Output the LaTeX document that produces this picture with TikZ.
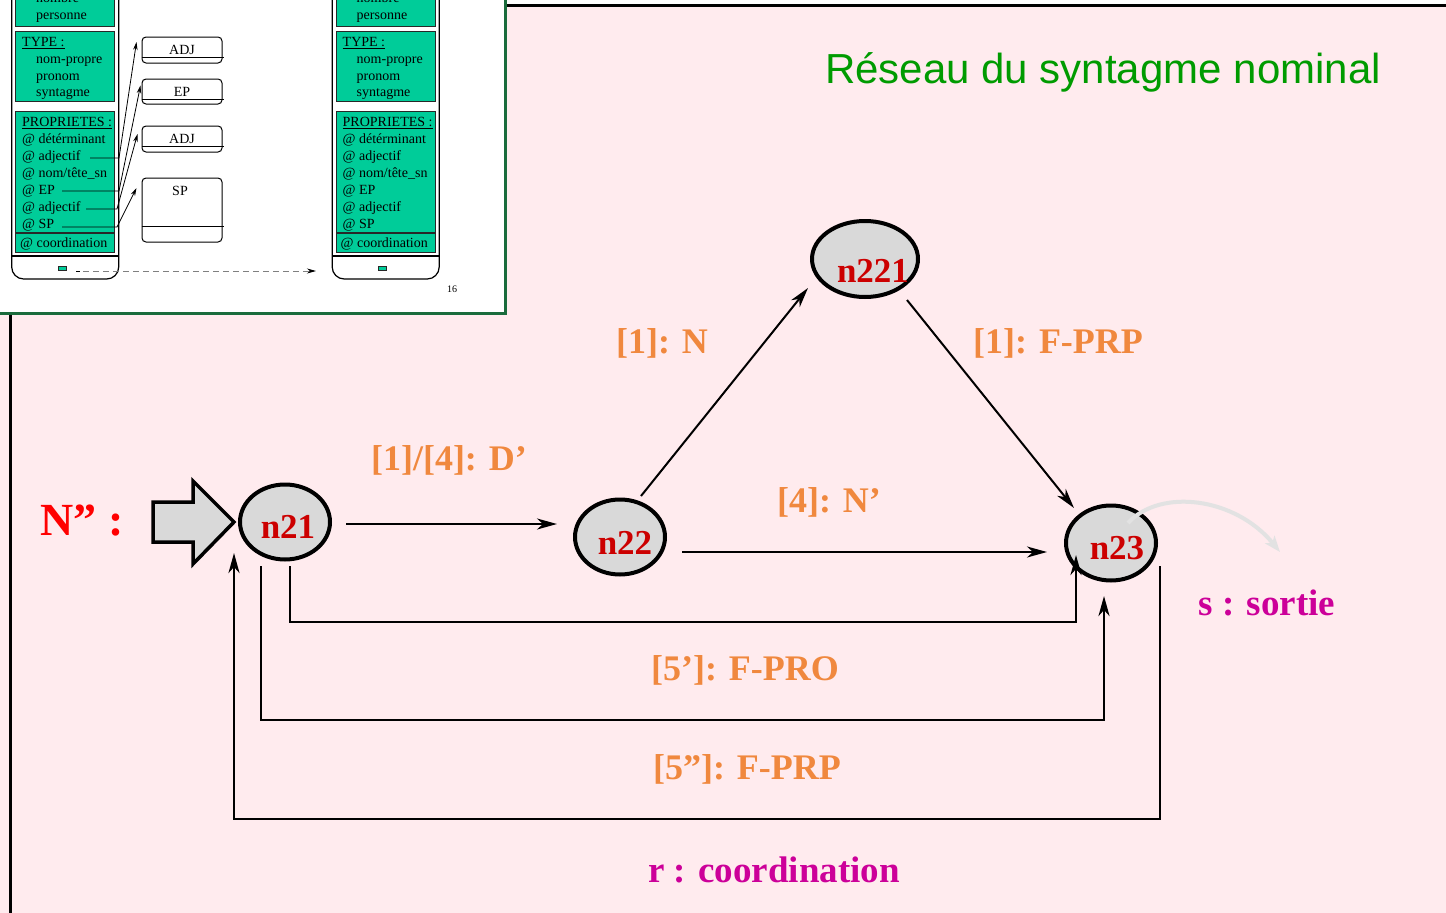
\documentclass[tikz,border=0pt]{standalone}
\usepackage{fontspec}
\setmainfont{Liberation Serif}
\newfontfamily\titlefont{Liberation Sans}
\usetikzlibrary{shapes.geometric,arrows.meta,calc}
\definecolor{pinkbg}{RGB}{255,235,238}
\definecolor{titlegreen}{RGB}{0,155,0}
\definecolor{nodegray}{RGB}{217,217,217}
\definecolor{nodered}{RGB}{204,0,0}
\definecolor{lblorange}{RGB}{240,136,62}
\definecolor{magentatxt}{RGB}{204,0,153}
\definecolor{teal2}{RGB}{0,204,153}
\definecolor{insetgreen}{RGB}{26,107,60}
\definecolor{darkline}{RGB}{40,40,40}
\definecolor{sortiegray}{RGB}{226,226,226}
\begin{document}
\begin{tikzpicture}[x=1pt,y=-1pt,
  st/.style={ellipse, draw, line width=4pt, fill=nodegray, minimum width=90pt, minimum height=75pt, inner sep=0pt},
  ntxt/.style={text=nodered, font=\bfseries\fontsize{35}{35}\selectfont, inner sep=0pt},
  lbl/.style={text=lblorange, font=\bfseries\fontsize{36}{36}\selectfont, inner sep=0pt},
  mag/.style={text=magentatxt, font=\bfseries\fontsize{37}{37}\selectfont, inner sep=0pt},
  edge/.style={line width=2pt, -{Stealth[length=20pt,width=11pt,inset=6pt]}},
  fba/.style={line width=2.6pt, -{Stealth[length=20pt,width=11pt,inset=6pt]}},
  gbox/.style={fill=teal2, draw=darkline, line width=1pt},
  itxt/.style={font=\fontsize{14}{14}\selectfont, anchor=mid west, inner sep=0pt},
  ibox/.style={draw, line width=1pt, rounded corners=4pt, minimum width=80pt, inner sep=0pt, font=\fontsize{14}{14}\selectfont},
  ia/.style={line width=0.8pt, -{Stealth[length=8pt,width=4.5pt]}}
]
\useasboundingbox (0,0) rectangle (1446,913);
% backgrounds
\fill[white] (0,0) rectangle (1446,913);
\fill[pinkbg] (0,6) rectangle (1446,913);
\draw[line width=3pt] (505,5) -- (1446,5);
\draw[line width=3pt] (10,313) -- (10,913);
% inset
\fill[white] (0,0) rectangle (505,313);
\foreach \ox/\nm in {0/a,320.5/b}{
\begin{scope}[xshift=\ox pt]
  \draw[line width=1.2pt, rounded corners=12pt] (11.7,-8) -- (11.7,279) -- (118.7,279) -- (118.7,-8);
  \draw[line width=1.2pt] (11.7,256) -- (118.7,256);
  \draw[gbox] (15.5,-8) rectangle (114.5,26);
  \draw[gbox] (15.5,31) rectangle (114.5,101);
  \draw[gbox] (15.5,111) rectangle (114.5,252);
  \draw[line width=2pt, darkline] (15.5,233) -- (114.5,233);
  \node[itxt] (nb\nm) at (36,0) {nombre};
  \node[itxt] (pe\nm) at (36,17) {personne};
  \node[itxt] (ty\nm) at (22,44) {\underline{TYPE :}};
  \node[itxt] (t1\nm) at (36,61) {nom-propre};
  \node[itxt] (t2\nm) at (36,78) {pronom};
  \node[itxt] (t3\nm) at (36,94) {syntagme};
  \node[itxt] (pr\nm) at (22,124) {\underline{PROPRIETES :}};
  \node[itxt] (p1\nm) at (22,141) {@ détérminant};
  \node[itxt] (p2\nm) at (22,158) {@ adjectif};
  \node[itxt] (p3\nm) at (22,175) {@ nom/tête\_sn};
  \node[itxt] (p4\nm) at (22,192) {@ EP};
  \node[itxt] (p5\nm) at (22,209) {@ adjectif};
  \node[itxt] (p6\nm) at (22,226) {@ SP};
  \node[itxt] (co\nm) at (20,245) {@ coordination};
  \node[fill=teal2, draw=darkline, line width=0.8pt, minimum width=8pt, minimum height=4pt, inner sep=0pt] (sq\nm) at (62,268.5) {};
\end{scope}
}
\node[ibox, minimum height=26pt] (adj1) at (182,50) {ADJ};
\draw[line width=1pt] ($(adj1.south west)+(0,-6)$) -- ($(adj1.south east)+(1,-6)$);
\node[ibox, minimum height=25pt] (ep) at (182,91.5) {EP};
\draw[line width=1pt] ($(ep.south west)+(0,-5)$) -- ($(ep.south east)+(1,-5)$);
\node[ibox, minimum height=26pt] (adj2) at (182,139) {ADJ};
\draw[line width=1pt] ($(adj2.south west)+(0,-6)$) -- ($(adj2.south east)+(1,-6)$);
\node[ibox, minimum height=64pt] (sp) at (182,210) {};
\node[inner sep=0pt, font=\fontsize{14}{14}\selectfont] (spt) at (180,191) {SP};
\draw[line width=1pt] ($(sp.south west)+(0,-16)$) -- ($(sp.south east)+(1,-16)$);
\draw[ia] (90,158) -- (119,158) -- ($(adj1.west)+(-5,-8)$);
\draw[ia] (62,191) -- (119,191) -- ($(ep.west)+(-1,-6)$);
\draw[ia] (86,209) -- (117,209) -- ($(adj2.west)+(-4,-5)$);
\draw[ia] (62,227) -- (117,227) -- ($(sp.west)+(-5,-22)$);
\coordinate (dstart) at (83,271);
\coordinate (dtip) at (316,271);
\draw[line width=0.8pt] (76,271) -- (80,271);
\draw[gray, line width=0.8pt, dash pattern=on 6pt off 4pt, -{Stealth[black,length=9pt,width=5pt]}] (dstart) -- (dtip);
\node[inner sep=0pt, font=\fontsize{10}{10}\selectfont] (pg) at (452,289) {16};
\draw[insetgreen, line width=3pt] (0,313) -- (505,313) -- (505,0);
% title
\node[inner sep=0pt, text=titlegreen, font=\titlefont\fontsize{42}{42}\selectfont] (title) at (1103,72) {Réseau du syntagme nominal};
% start arrow
\draw[line width=3.5pt, fill=nodegray, line join=miter] (153,502) -- (193,502) -- (193,481) -- (234,522) -- (193,564) -- (193,542) -- (153,542) -- cycle;
\node[inner sep=0pt, text=red, font=\bfseries\fontsize{46}{46}\selectfont] (np) at (82,521) {N” :};
% nodes
\node[st] (n21) at (285,522) {};
\node[st] (n22) at (620,537) {};
\node[st, minimum width=106pt, minimum height=76pt] (n221) at (865,259) {};
\node[st] (n23) at (1111,543) {};
\node[ntxt] (t21) at (288,527) {n21};
\node[ntxt] (t22) at (625,543) {n22};
\node[ntxt] (t221) at (873,271) {n221};
\node[ntxt] (t23) at (1117,548) {n23};
% edges
\draw[edge] ($(n21.east)+(14,2)$) -- ($(n22.west)+(-16,-13)$);
\draw[edge] ($(n22.east)+(15,15)$) -- ($(n23.west)+(-17,9)$);
\draw[edge] ($(n22)+(21,-41)$) -- ($(n221)+(-57,29)$);
\draw[edge] ($(n221)+(42,41)$) -- ($(n23)+(-37,-35)$);
\draw[fba] ($(n21)+(5,44)$) |- ($(n23)+(-35,79)$) -- ($(n23)+(-35,12)$);
\draw[fba] ($(n21)+(-24,44)$) |- ($(n23)+(-7,177)$) -- ($(n23)+(-7,53)$);
\draw[fba] ($(n23)+(49,23)$) |- ($(n21)+(-51,297)$) -- ($(n21)+(-51,31)$);
% sortie
\coordinate (sout) at (1280,552);
\draw[sortiegray, line width=4pt, -{Stealth[length=16pt,width=12pt,inset=4pt]}] ($(n23)+(17,-20)$) .. controls (1160,488) and (1235,497) .. (sout);
% labels
\node[lbl] (l1) at (449,460) {[1]/[4]: D’};
\node[lbl] (l2) at (662,343) {[1]: N};
\node[lbl] (l3) at (1058,343) {[1]: F-PRP};
\node[lbl] (l4) at (829,502) {[4]: N’};
\node[lbl] (l5) at (745,670) {[5’]: F-PRO};
\node[lbl] (l6) at (747,769) {[5”]: F-PRP};
\node[mag] (l7) at (774,870) {r : coordination};
\node[mag] (l8) at (1267,603) {s : sortie};
\end{tikzpicture}
\end{document}
